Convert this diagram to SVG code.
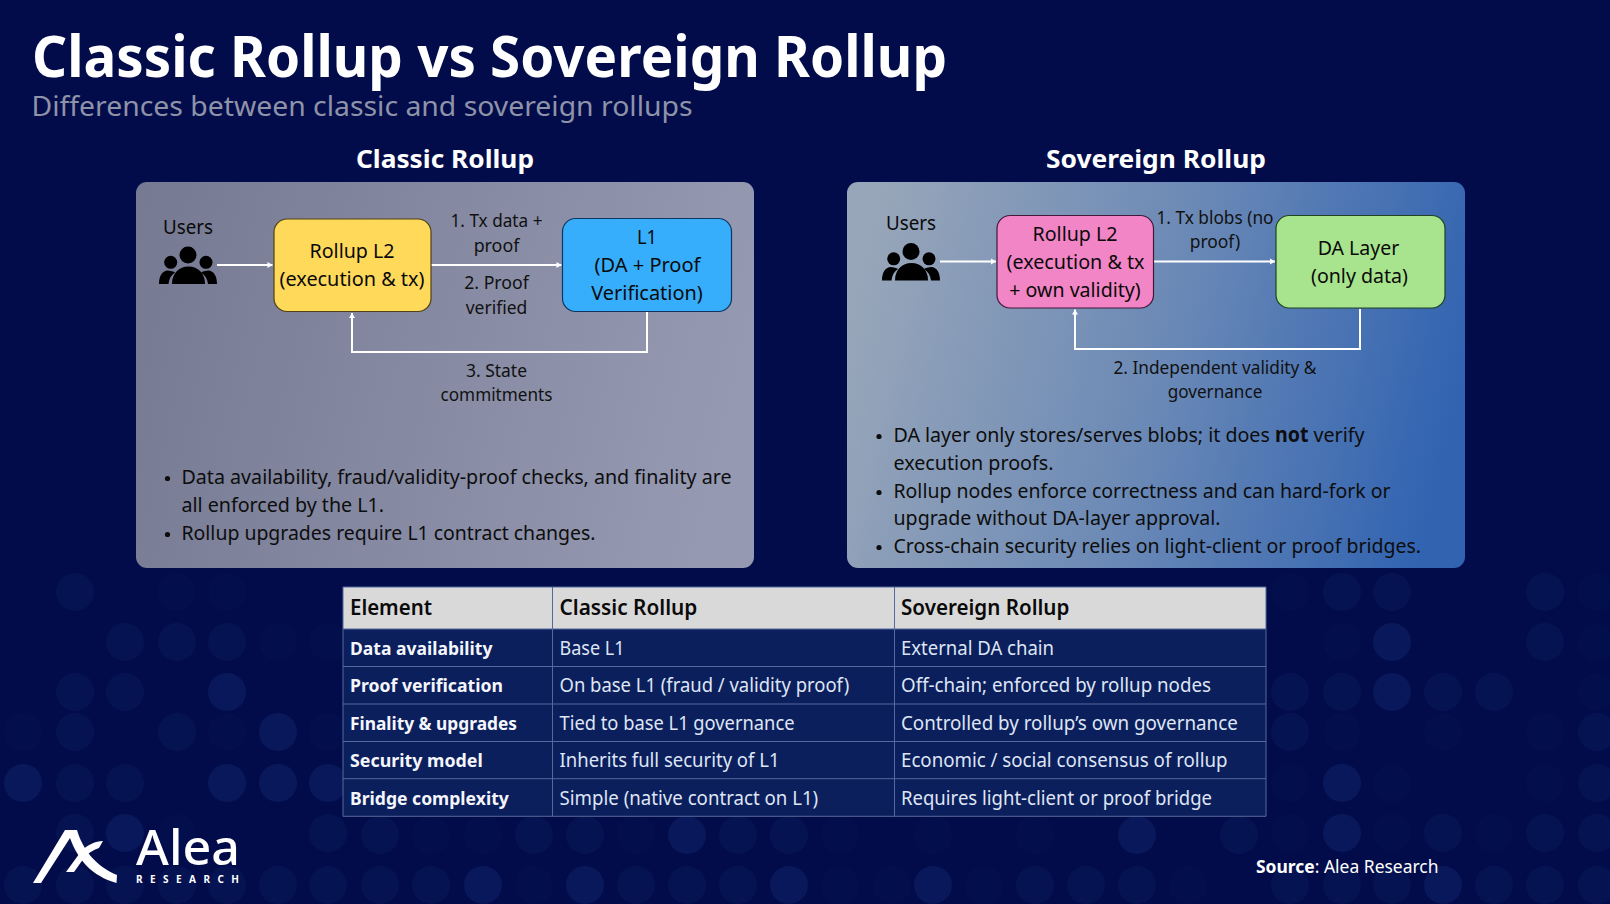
<svg xmlns="http://www.w3.org/2000/svg" xmlns:xlink="http://www.w3.org/1999/xlink" width="1610" height="904" viewBox="0 0 1610 904">
<style>
text{font-family:"Noto Sans","Open Sans","Liberation Sans",sans-serif}
.c{text-anchor:middle}
.n{font-size:20.5px;fill:#0a0a0a}
.l{font-size:18px;fill:#111}
.b{font-size:20.5px;fill:#0d0d0d}
.h{font-size:25px;font-weight:700;fill:#fff}
.th{font-size:21px;font-weight:600;fill:#0a0a0a}
.k{font-size:18.5px;font-weight:700;fill:#f4f6fc}
.v{font-size:19px;fill:#dfe5f5}
.f{fill:#1b3a85;opacity:.07}
.m{fill:#1b3a85;opacity:.17}
.s{fill:#1b3a85;opacity:.28}
.nd{stroke-width:1.2}
.cn{fill:none;stroke:#fff;stroke-width:2}
.tl{stroke:#56689c;stroke-width:1;fill:none}
</style>
<defs>
<linearGradient id="gL" x1="0" y1="0.2" x2="1" y2="0.35"><stop offset="0" stop-color="#767a92"/><stop offset="1" stop-color="#9599b2"/></linearGradient>
<linearGradient id="gR" x1="0" y1="0.35" x2="1" y2="0.5"><stop offset="0" stop-color="#98a6b9"/><stop offset="0.5" stop-color="#6c8ab6"/><stop offset="1" stop-color="#3163b1"/></linearGradient>
<marker id="ah" markerUnits="userSpaceOnUse" markerWidth="8" markerHeight="8" refX="6" refY="4" orient="auto"><path d="M1 1L6 4L1 7Z" fill="#fff"/></marker>
<g id="people" fill="#000">
<circle cx="188" cy="255" r="8.5"/><circle cx="170.7" cy="262.3" r="6.5"/><circle cx="206" cy="262.3" r="6.5"/>
<path d="M172 284C172 273 179 266.5 188.5 266.5C198 266.5 205 273 205 284Z"/>
<path d="M159 284C159 276 162 271.5 167 270.5C171 270.5 173.5 271.5 175 272.5C171 275 169 279 168.5 284Z"/>
<path d="M217 284C217 276 214 271.5 209 270.5C205 270.5 202.500 271.500 201 272.500C205 275 207.500 279 208 284Z"/>
</g>
</defs>
<rect width="1610" height="904" fill="#020c4a"/>
<g id="dots">
<circle class="m" cx="75" cy="592" r="19"/><circle class="f" cx="177" cy="592" r="19"/><circle class="f" cx="227" cy="592" r="19"/>
<circle class="m" cx="125" cy="642" r="19"/><circle class="m" cx="177" cy="642" r="19"/><circle class="m" cx="227" cy="642" r="19"/><circle class="f" cx="278" cy="642" r="19"/><circle class="f" cx="328" cy="642" r="19"/>
<circle class="m" cx="75" cy="692" r="19"/><circle class="m" cx="125" cy="692" r="19"/><circle class="s" cx="227" cy="692" r="19"/>
<circle class="f" cx="23" cy="732" r="19"/><circle class="m" cx="75" cy="732" r="19"/><circle class="m" cx="177" cy="732" r="19"/><circle class="f" cx="227" cy="732" r="19"/><circle class="s" cx="278" cy="732" r="19"/><circle class="f" cx="328" cy="732" r="19"/>
<circle class="s" cx="23" cy="783" r="19"/><circle class="m" cx="75" cy="783" r="19"/><circle class="m" cx="125" cy="783" r="19"/><circle class="s" cx="227" cy="783" r="19"/><circle class="s" cx="278" cy="783" r="19"/><circle class="s" cx="328" cy="783" r="19"/>
<circle class="m" cx="75" cy="833" r="19"/><circle class="s" cx="125" cy="833" r="19"/><circle class="f" cx="177" cy="833" r="19"/><circle class="m" cx="328" cy="833" r="19"/>
<circle class="m" cx="23" cy="885" r="19"/><circle class="m" cx="75" cy="885" r="19"/><circle class="m" cx="125" cy="885" r="19"/><circle class="m" cx="177" cy="885" r="19"/><circle class="m" cx="227" cy="885" r="19"/><circle class="m" cx="278" cy="885" r="19"/><circle class="m" cx="328" cy="885" r="19"/>
<circle class="f" cx="1290" cy="592" r="19"/><circle class="m" cx="1342" cy="592" r="19"/><circle class="m" cx="1392" cy="592" r="19"/><circle class="m" cx="1545" cy="592" r="19"/><circle class="f" cx="1597" cy="592" r="19"/>
<circle class="f" cx="1342" cy="642" r="19"/><circle class="s" cx="1392" cy="642" r="19"/><circle class="m" cx="1545" cy="642" r="19"/><circle class="f" cx="1597" cy="642" r="19"/>
<circle class="m" cx="1290" cy="692" r="19"/><circle class="m" cx="1342" cy="692" r="19"/><circle class="s" cx="1392" cy="692" r="19"/><circle class="m" cx="1443" cy="692" r="19"/><circle class="m" cx="1494" cy="692" r="19"/><circle class="f" cx="1597" cy="692" r="19"/>
<circle class="m" cx="1290" cy="732" r="19"/><circle class="f" cx="1342" cy="732" r="19"/><circle class="f" cx="1443" cy="732" r="19"/><circle class="f" cx="1545" cy="732" r="19"/><circle class="m" cx="1597" cy="732" r="19"/>
<circle class="f" cx="1290" cy="783" r="19"/><circle class="s" cx="1342" cy="783" r="19"/><circle class="f" cx="1392" cy="783" r="19"/><circle class="f" cx="1545" cy="783" r="19"/><circle class="m" cx="1597" cy="783" r="19"/>
<circle class="f" cx="1290" cy="833" r="19"/><circle class="s" cx="1342" cy="833" r="19"/><circle class="f" cx="1392" cy="833" r="19"/><circle class="m" cx="1443" cy="833" r="19"/><circle class="f" cx="1494" cy="833" r="19"/><circle class="m" cx="1545" cy="833" r="19"/><circle class="m" cx="1597" cy="833" r="19"/>
<circle class="m" cx="1290" cy="885" r="19"/><circle class="m" cx="1342" cy="885" r="19"/><circle class="m" cx="1392" cy="885" r="19"/><circle class="s" cx="1443" cy="885" r="19"/><circle class="m" cx="1494" cy="885" r="19"/><circle class="m" cx="1545" cy="885" r="19"/><circle class="m" cx="1597" cy="885" r="19"/>
<circle class="m" cx="380" cy="835" r="19"/><circle class="f" cx="431" cy="835" r="19"/><circle class="f" cx="483" cy="835" r="19"/><circle class="m" cx="534" cy="835" r="19"/><circle class="m" cx="585" cy="835" r="19"/><circle class="f" cx="636" cy="835" r="19"/><circle class="s" cx="687" cy="835" r="19"/><circle class="m" cx="738" cy="835" r="19"/><circle class="m" cx="789" cy="835" r="19"/><circle class="f" cx="840" cy="835" r="19"/><circle class="f" cx="933" cy="835" r="19"/><circle class="f" cx="1035" cy="835" r="19"/><circle class="s" cx="1137" cy="835" r="19"/><circle class="m" cx="1239" cy="835" r="19"/>
<circle class="m" cx="380" cy="885" r="19"/><circle class="m" cx="431" cy="885" r="19"/><circle class="s" cx="483" cy="885" r="19"/><circle class="f" cx="534" cy="885" r="19"/><circle class="s" cx="585" cy="885" r="19"/><circle class="m" cx="636" cy="885" r="19"/><circle class="m" cx="687" cy="885" r="19"/><circle class="m" cx="738" cy="885" r="19"/><circle class="s" cx="789" cy="885" r="19"/><circle class="f" cx="840" cy="885" r="19"/><circle class="f" cx="892" cy="885" r="19"/><circle class="s" cx="933" cy="885" r="19"/><circle class="f" cx="984" cy="885" r="19"/><circle class="m" cx="1035" cy="885" r="19"/><circle class="m" cx="1086" cy="885" r="19"/><circle class="m" cx="1137" cy="885" r="19"/><circle class="f" cx="1188" cy="885" r="19"/>
</g>
<g id="header">
<text x="32" y="76.500" font-size="57" font-weight="700" fill="#fff" textLength="915" lengthAdjust="spacingAndGlyphs">Classic Rollup vs Sovereign Rollup</text>
<text x="31.500" y="116" font-size="28" fill="#8f93a8" textLength="661" lengthAdjust="spacingAndGlyphs">Differences between classic and sovereign rollups</text>
<text class="h c" x="445" y="168" textLength="178" lengthAdjust="spacingAndGlyphs">Classic Rollup</text>
<text class="h c" x="1156" y="168" textLength="220" lengthAdjust="spacingAndGlyphs">Sovereign Rollup</text>
</g>
<g id="panels">
<rect x="136" y="182" width="618" height="386" rx="11" fill="url(#gL)"/>
<rect x="847" y="182" width="618" height="386" rx="11" fill="url(#gR)"/>
</g>
<g id="connectors">
<path class="cn" d="M217 265H272.500" marker-end="url(#ah)"/>
<path class="cn" d="M431 265H561.500" marker-end="url(#ah)"/>
<path class="cn" d="M647 312V352H352V313" marker-end="url(#ah)"/>
<path class="cn" d="M940 261.500H996" marker-end="url(#ah)"/>
<path class="cn" d="M1154 261.500H1275" marker-end="url(#ah)"/>
<path class="cn" d="M1360 309V349H1075V309.500" marker-end="url(#ah)"/>
</g>
<g id="users-classic">
<text class="n c" x="188" y="234" textLength="50" lengthAdjust="spacingAndGlyphs">Users</text>
<use xlink:href="#people" href="#people"/>
</g>
<g id="rollup-l2-classic">
<rect class="nd" x="274" y="219" width="157" height="92.500" rx="13" fill="#ffd95a" stroke="#4f4214"/>
<text class="n c" x="352" y="258" textLength="85" lengthAdjust="spacingAndGlyphs">Rollup L2</text>
<text class="n c" x="352" y="286" textLength="145" lengthAdjust="spacingAndGlyphs">(execution &amp; tx)</text>
</g>
<g id="l1-classic">
<rect class="nd" x="562.500" y="218.500" width="169" height="93" rx="13" fill="#36aefc" stroke="#0f3560"/>
<text class="n c" x="647" y="244" textLength="20" lengthAdjust="spacingAndGlyphs">L1</text>
<text class="n c" x="647.500" y="272" textLength="106" lengthAdjust="spacingAndGlyphs">(DA + Proof</text>
<text class="n c" x="647" y="300" textLength="111.500" lengthAdjust="spacingAndGlyphs">Verification)</text>
</g>
<g id="labels-classic">
<text class="l c" x="496.500" y="227" textLength="92" lengthAdjust="spacingAndGlyphs">1. Tx data +</text>
<text class="l c" x="496.500" y="251.500" textLength="45.700" lengthAdjust="spacingAndGlyphs">proof</text>
<text class="l c" x="496.500" y="289" textLength="64.500" lengthAdjust="spacingAndGlyphs">2. Proof</text>
<text class="l c" x="496.500" y="314" textLength="61.600" lengthAdjust="spacingAndGlyphs">verified</text>
<text class="l c" x="496.500" y="377" textLength="61" lengthAdjust="spacingAndGlyphs">3. State</text>
<text class="l c" x="496.500" y="401" textLength="112" lengthAdjust="spacingAndGlyphs">commitments</text>
</g>
<g id="notes-classic">
<circle cx="167.500" cy="478.500" r="2.600" fill="#0d0d0d"/><circle cx="167.500" cy="534.500" r="2.600" fill="#0d0d0d"/>
<text class="b" x="181.500" y="484" textLength="550" lengthAdjust="spacingAndGlyphs">Data availability, fraud/validity-proof checks, and finality are</text>
<text class="b" x="181.500" y="512" textLength="202.500" lengthAdjust="spacingAndGlyphs">all enforced by the L1.</text>
<text class="b" x="181.500" y="540" textLength="414" lengthAdjust="spacingAndGlyphs">Rollup upgrades require L1 contract changes.</text>
</g>
<g id="users-sovereign">
<text class="n c" x="911" y="230" textLength="50" lengthAdjust="spacingAndGlyphs">Users</text>
<use xlink:href="#people" href="#people" x="723" y="-3.500"/>
</g>
<g id="rollup-l2-sovereign">
<rect class="nd" x="997" y="215.500" width="156.500" height="92.500" rx="13" fill="#f285c6" stroke="#43183a"/>
<text class="n c" x="1075" y="241" textLength="85" lengthAdjust="spacingAndGlyphs">Rollup L2</text>
<text class="n c" x="1075.500" y="269" textLength="138" lengthAdjust="spacingAndGlyphs">(execution &amp; tx</text>
<text class="n c" x="1075" y="297" textLength="131.400" lengthAdjust="spacingAndGlyphs">+ own validity)</text>
</g>
<g id="da-layer">
<rect class="nd" x="1276" y="215.500" width="169" height="92.500" rx="13" fill="#a8e48d" stroke="#1f4322"/>
<text class="n c" x="1358.500" y="255" textLength="81.600" lengthAdjust="spacingAndGlyphs">DA Layer</text>
<text class="n c" x="1359.500" y="283" textLength="97" lengthAdjust="spacingAndGlyphs">(only data)</text>
</g>
<g id="labels-sovereign">
<text class="l c" x="1215" y="224" textLength="117" lengthAdjust="spacingAndGlyphs">1. Tx blobs (no</text>
<text class="l c" x="1215" y="248" textLength="50.600" lengthAdjust="spacingAndGlyphs">proof)</text>
<text class="l c" x="1215" y="374" textLength="203" lengthAdjust="spacingAndGlyphs">2. Independent validity &amp;</text>
<text class="l c" x="1215" y="398" textLength="94.700" lengthAdjust="spacingAndGlyphs">governance</text>
</g>
<g id="notes-sovereign">
<circle cx="879" cy="436.500" r="2.600" fill="#0d0d0d"/><circle cx="879" cy="492.500" r="2.600" fill="#0d0d0d"/><circle cx="879" cy="547.500" r="2.600" fill="#0d0d0d"/>
<text class="b" x="893.500" y="442" textLength="471" lengthAdjust="spacingAndGlyphs">DA layer only stores/serves blobs; it does <tspan font-weight="700">not</tspan> verify</text>
<text class="b" x="893.500" y="470" textLength="160" lengthAdjust="spacingAndGlyphs">execution proofs.</text>
<text class="b" x="893.500" y="498" textLength="497" lengthAdjust="spacingAndGlyphs">Rollup nodes enforce correctness and can hard-fork or</text>
<text class="b" x="893.500" y="525" textLength="327" lengthAdjust="spacingAndGlyphs">upgrade without DA-layer approval.</text>
<text class="b" x="893.500" y="553" textLength="527.500" lengthAdjust="spacingAndGlyphs">Cross-chain security relies on light-client or proof bridges.</text>
</g>
<g id="table">
<rect x="343" y="587" width="923" height="42" fill="#d9d9d9"/>
<rect x="343" y="629" width="923" height="187.300" fill="#0b1f5c"/>
<path class="tl" d="M343 587H1266V816.300H343ZM343 629H1266M343 666.500H1266M343 704H1266M343 741.500H1266M343 778.700H1266M552.500 587V816.300M894.500 587V816.300"/>
<text class="th" x="350" y="615" textLength="82" lengthAdjust="spacingAndGlyphs">Element</text>
<text class="th" x="559.500" y="615" textLength="137.800" lengthAdjust="spacingAndGlyphs">Classic Rollup</text>
<text class="th" x="901" y="615" textLength="168.400" lengthAdjust="spacingAndGlyphs">Sovereign Rollup</text>
<text class="k" x="350" y="654.500" textLength="142.400" lengthAdjust="spacingAndGlyphs">Data availability</text>
<text class="k" x="350" y="692" textLength="153" lengthAdjust="spacingAndGlyphs">Proof verification</text>
<text class="k" x="350" y="730" textLength="167" lengthAdjust="spacingAndGlyphs">Finality &amp; upgrades</text>
<text class="k" x="350" y="767" textLength="132.800" lengthAdjust="spacingAndGlyphs">Security model</text>
<text class="k" x="350" y="804.500" textLength="158.800" lengthAdjust="spacingAndGlyphs">Bridge complexity</text>
<text class="v" x="559.500" y="654.500" textLength="65" lengthAdjust="spacingAndGlyphs">Base L1</text>
<text class="v" x="559.500" y="692" textLength="289.700" lengthAdjust="spacingAndGlyphs">On base L1 (fraud / validity proof)</text>
<text class="v" x="559.500" y="730" textLength="235" lengthAdjust="spacingAndGlyphs">Tied to base L1 governance</text>
<text class="v" x="559.500" y="767" textLength="220" lengthAdjust="spacingAndGlyphs">Inherits full security of L1</text>
<text class="v" x="559.500" y="804.500" textLength="258.700" lengthAdjust="spacingAndGlyphs">Simple (native contract on L1)</text>
<text class="v" x="901" y="654.500" textLength="153" lengthAdjust="spacingAndGlyphs">External DA chain</text>
<text class="v" x="901" y="692" textLength="310" lengthAdjust="spacingAndGlyphs">Off-chain; enforced by rollup nodes</text>
<text class="v" x="901" y="730" textLength="336.800" lengthAdjust="spacingAndGlyphs">Controlled by rollup’s own governance</text>
<text class="v" x="901" y="767" textLength="326.500" lengthAdjust="spacingAndGlyphs">Economic / social consensus of rollup</text>
<text class="v" x="901" y="804.500" textLength="311" lengthAdjust="spacingAndGlyphs">Requires light-client or proof bridge</text>
</g>
<g id="logo">
<path fill="#fff" d="M33 883L65 830H77C82 848 95 866 117 875L116.500 883C92 876 78 860 70 838L41 883Z"/>
<path fill="#fff" d="M66 872L82 850C88 845 95 841 103 841L99 848C93 850 88 853 84 858L74 872Z"/>
<text x="136" y="865" font-size="49" font-weight="500" fill="#fff" textLength="104" lengthAdjust="spacingAndGlyphs">Alea</text>
<text x="136" y="883" font-size="10" font-weight="700" fill="#fff" textLength="103" lengthAdjust="spacing">RESEARCH</text>
</g>
<g id="source">
<text x="1256" y="872.500" font-size="18" fill="#fff" textLength="182.500" lengthAdjust="spacingAndGlyphs"><tspan font-weight="700">Source</tspan>: Alea Research</text>
</g>
</svg>
